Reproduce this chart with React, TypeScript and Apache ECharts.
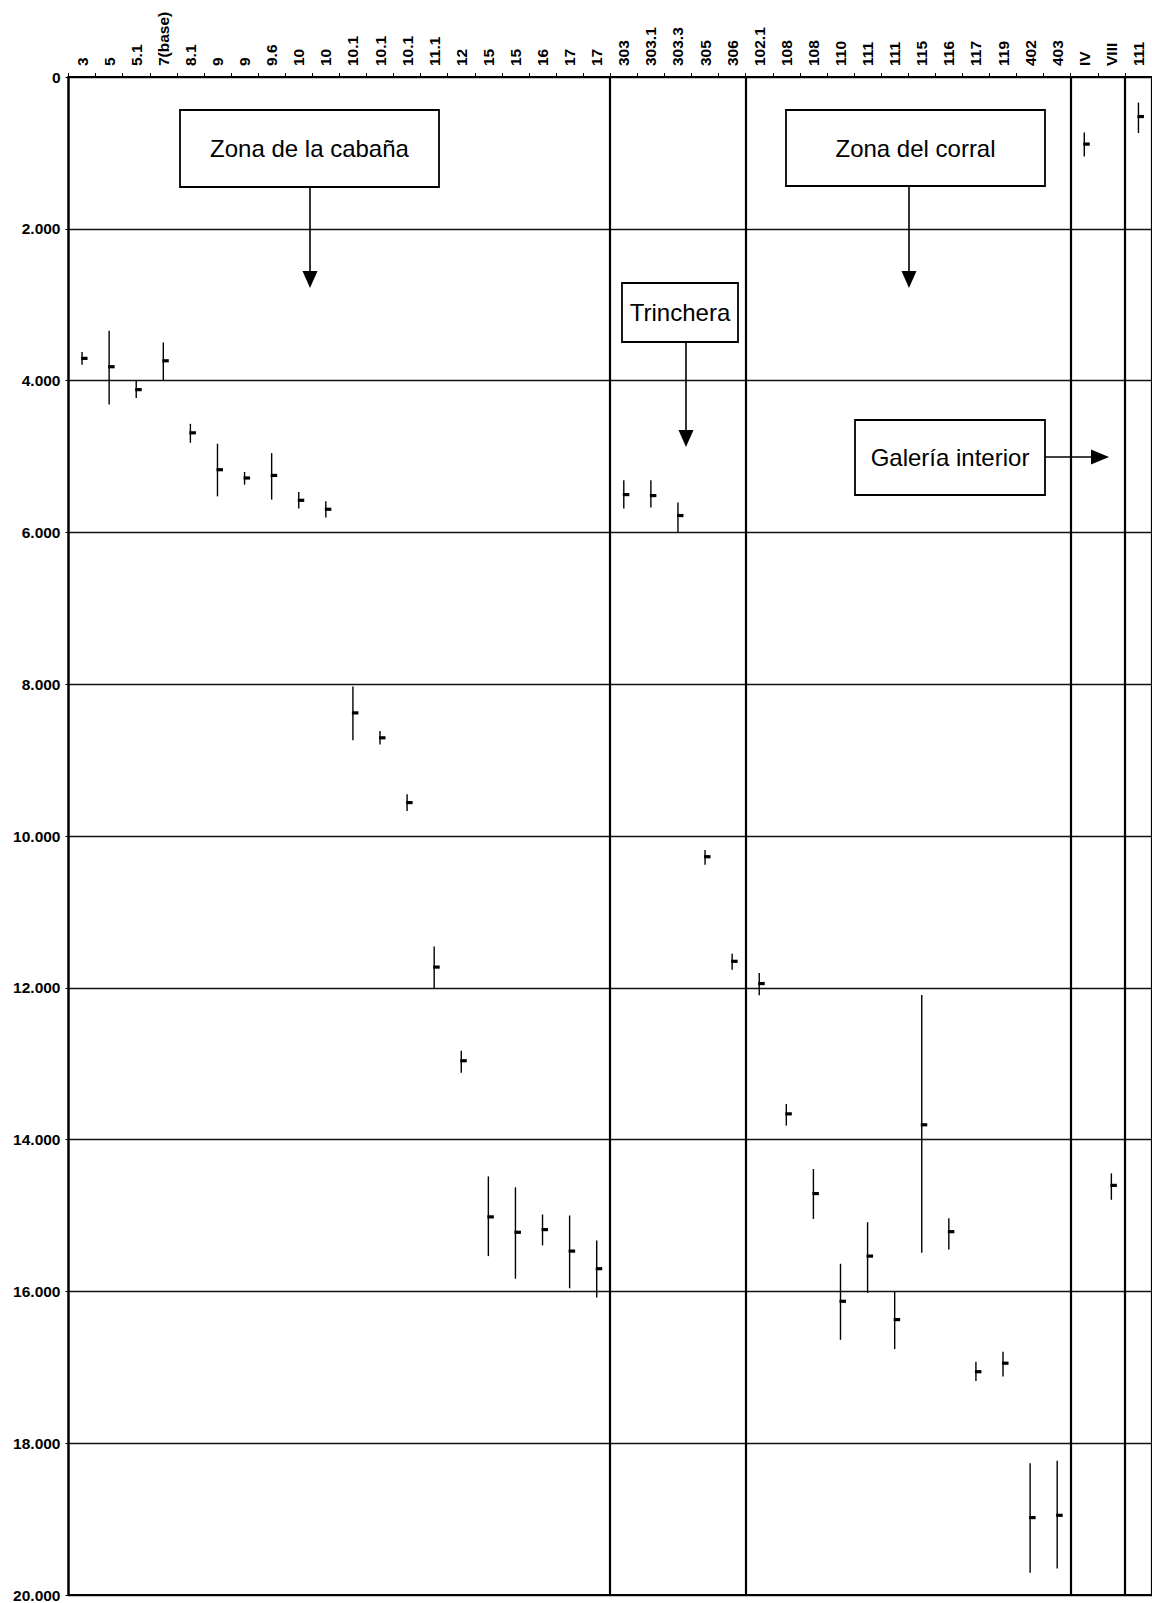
import React, { useEffect, useRef } from "react";
import * as echarts from "echarts";

const categories = [
  "3", "5", "5.1", "7(base)", "8.1", "9", "9", "9.6", "10", "10",
  "10.1", "10.1", "10.1", "11.1", "12", "15", "15", "16", "17", "17",
  "303", "303.1", "303.3", "305", "306",
  "102.1", "108", "108", "110", "111", "111", "115", "116", "117", "119", "402", "403",
  "IV", "VIII", "111",
];

const lows = [
  3624, 3344, 4001, 3497, 4570, 4832, 5204, 4955, 5467, 5590,
  8030, 8618, 9451, 11455, 12830, 14485, 14629, 14987, 15000, 15328,
  5313, 5313, 5607, 10186, 11552,
  11805, 13530, 14388, 15636, 15088, 15995, 12095, 15036, 16927, 16795, 18263, 18230,
  731, 14445, 337,
];

const highs = [
  3791, 4316, 4228, 3992, 4819, 5525, 5371, 5568, 5686, 5804,
  8739, 8794, 9669, 12011, 13119, 15535, 15833, 15394, 15959, 16081,
  5686, 5673, 6000, 10378, 11762,
  12098, 13815, 15045, 16638, 16020, 16760, 15491, 15447, 17180, 17120, 19708, 19650,
  1047, 14793, 739,
];

const means = [
  3707, 3817, 4119, 3739, 4688, 5174, 5283, 5249, 5577, 5695,
  8378, 8706, 9560, 11727, 12961, 15018, 15221, 15186, 15469, 15701,
  5502, 5515, 5778, 10273, 11651,
  11944, 13661, 14711, 16130, 15535, 16372, 13805, 15213, 17058, 16946, 18980, 18950,
  884, 14603, 521,
];

const separatorIndices = [20, 25, 37, 39];

const FONT = "'Liberation Sans', Arial, Helvetica, sans-serif";

function box(x: number, y: number, w: number, h: number, label: string) {
  return {
    type: "group",
    children: [
      {
        type: "rect",
        shape: { x, y, width: w, height: h },
        style: { fill: "#fff", stroke: "#000", lineWidth: 1.8 },
        z: 10,
      },
      {
        type: "text",
        x: x + w / 2,
        y: y + h / 2,
        style: {
          text: label,
          fill: "#000",
          fontSize: 24,
          fontFamily: FONT,
          align: "center",
          verticalAlign: "middle",
        },
        z: 11,
      },
    ],
  };
}

function downArrow(x: number, y1: number, tip: number) {
  return {
    type: "group",
    children: [
      {
        type: "line",
        shape: { x1: x, y1, x2: x, y2: tip - 14 },
        style: { stroke: "#000", lineWidth: 1.6 },
        z: 10,
      },
      {
        type: "polygon",
        shape: { points: [[x - 7.5, tip - 17], [x + 7.5, tip - 17], [x, tip]] },
        style: { fill: "#000" },
        z: 10,
      },
    ],
  };
}

function rightArrow(x1: number, y: number, tip: number) {
  return {
    type: "group",
    children: [
      {
        type: "line",
        shape: { x1, y1: y, x2: tip - 14, y2: y },
        style: { stroke: "#000", lineWidth: 1.6 },
        z: 10,
      },
      {
        type: "polygon",
        shape: { points: [[tip - 18, y - 7.5], [tip - 18, y + 7.5], [tip, y]] },
        style: { fill: "#000" },
        z: 10,
      },
    ],
  };
}

export default function App() {
  const ref = useRef<HTMLDivElement>(null);

  useEffect(() => {
    if (!ref.current) return;
    const chart = echarts.init(ref.current, null, { renderer: "svg" });

    const data = categories.map((_, i) => [i, lows[i], highs[i], means[i]]);

    const option: any = {
      animation: false,
      backgroundColor: "#fff",
      grid: { left: 68.5, top: 77, width: 1088, height: 1523 },
      xAxis: [
        {
          type: "category",
          position: "top",
          data: categories,
          boundaryGap: true,
          axisLine: { show: true, lineStyle: { color: "#000", width: 2 } },
          axisTick: {
            show: true,
            interval: 0,
            length: 4,
            lineStyle: { color: "#000", width: 1 },
          },
          axisLabel: {
            interval: 0,
            rotate: 90,
            margin: 11,
            color: "#000",
            fontSize: 15.5,
            fontWeight: "bold",
            fontFamily: FONT,
          },
          splitLine: {
            show: true,
            interval: (index: number) => separatorIndices.indexOf(index) >= 0,
            lineStyle: { color: "#000", width: 2.2 },
          },
        },
        {
          type: "category",
          position: "bottom",
          data: categories,
          axisLine: { show: true, lineStyle: { color: "#000", width: 2 } },
          axisTick: { show: false },
          axisLabel: { show: false },
          splitLine: { show: false },
        },
      ],
      yAxis: {
        type: "value",
        inverse: true,
        min: 0,
        max: 20000,
        interval: 2000,
        axisLine: { show: true, lineStyle: { color: "#000", width: 2.5 } },
        axisTick: { show: true, length: 3, lineStyle: { color: "#000" } },
        axisLabel: {
          margin: 8,
          color: "#000",
          fontSize: 15.5,
          fontWeight: "bold",
          fontFamily: FONT,
          formatter: (v: number) =>
            v === 0 ? "0" : `${Math.floor(v / 1000)}.${String(v % 1000).padStart(3, "0")}`,
        },
        splitLine: { show: true, lineStyle: { color: "#111", width: 1.3 } },
      },
      series: [
        {
          type: "custom",
          xAxisIndex: 0,
          data,
          encode: { x: 0, y: [1, 2, 3] },
          renderItem: (params: any, api: any) => {
            const i = api.value(0);
            const lo = api.coord([i, api.value(1)]);
            const hi = api.coord([i, api.value(2)]);
            const md = api.coord([i, api.value(3)]);
            return {
              type: "group",
              children: [
                {
                  type: "line",
                  shape: { x1: lo[0], y1: lo[1], x2: hi[0], y2: hi[1] },
                  style: { stroke: "#000", lineWidth: 1.4 },
                },
                {
                  type: "rect",
                  shape: { x: md[0] - 1, y: md[1] - 1.6, width: 6.5, height: 3.2 },
                  style: { fill: "#000" },
                },
              ],
            };
          },
        },
      ],
      graphic: [
        box(180, 110, 259, 77, "Zona de la cabaña"),
        downArrow(310, 187, 288),
        box(786, 110, 259, 76, "Zona del corral"),
        downArrow(909, 186, 288),
        box(622, 283, 116, 59, "Trinchera"),
        downArrow(686, 342, 447),
        box(855, 420, 190, 75, "Galería interior"),
        rightArrow(1045, 457, 1109),
      ],
    };

    chart.setOption(option);
    return () => chart.dispose();
  }, []);

  return (
    <div
      ref={ref}
      style={{ position: "absolute", left: 0, top: 0, width: 1152, height: 1603, background: "#fff" }}
    />
  );
}
